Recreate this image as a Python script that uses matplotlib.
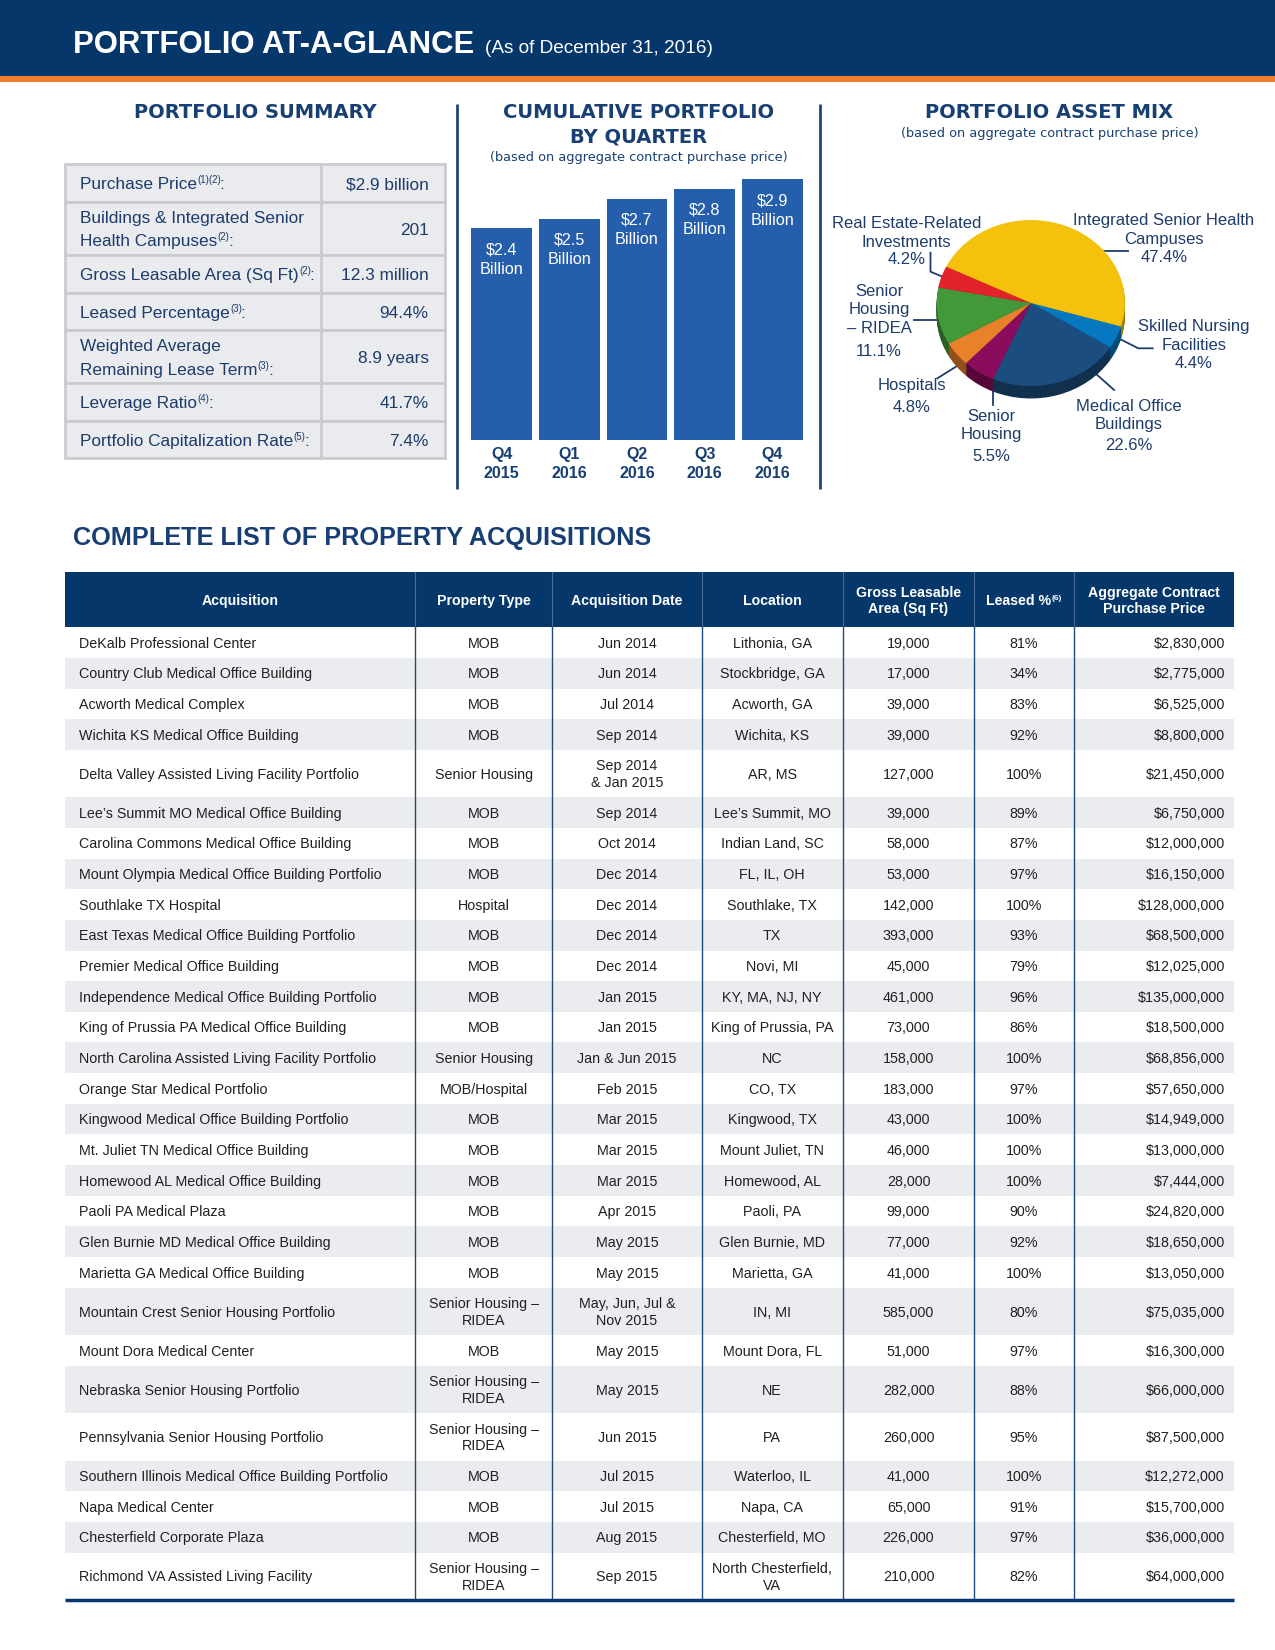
import matplotlib
matplotlib.use('Agg')
import matplotlib.pyplot as plt
from matplotlib.patches import Rectangle
import matplotlib.colors as mcolors
import numpy as np

# ---------------- data ----------------
summary_labels = ["Purchase Price", "Buildings & Integrated Senior\nHealth Campuses",
                  "Gross Leasable Area (Sq Ft)", "Leased Percentage",
                  "Weighted Average\nRemaining Lease Term", "Leverage Ratio",
                  "Portfolio Capitalization Rate"]
summary_notes = ["(1)(2)", "(2)", "(2)", "(3)", "(3)", "(4)", "(5)"]
summary_values = ["$2.9 billion", "201", "12.3 million", "94.4%", "8.9 years", "41.7%", "7.4%"]

quarters = ["Q4\n2015", "Q1\n2016", "Q2\n2016", "Q3\n2016", "Q4\n2016"]
cumulative_billion = [2.4, 2.5, 2.7, 2.8, 2.9]

asset_labels = ["Integrated Senior Health\nCampuses", "Skilled Nursing\nFacilities",
                "Medical Office\nBuildings", "Senior\nHousing", "Hospitals",
                "Senior\nHousing\n\u2013 RIDEA", "Real Estate-Related\nInvestments"]
asset_pct = [47.4, 4.4, 22.6, 5.5, 4.8, 11.1, 4.2]

table_headers = ["Acquisition", "Property Type", "Acquisition Date", "Location",
                 "Gross Leasable\nArea (Sq Ft)", "Leased %", "Aggregate Contract\nPurchase Price"]
acquisitions = [
    "DeKalb Professional Center", "Country Club Medical Office Building", "Acworth Medical Complex",
    "Wichita KS Medical Office Building", "Delta Valley Assisted Living Facility Portfolio",
    "Lee\u2019s Summit MO Medical Office Building", "Carolina Commons Medical Office Building",
    "Mount Olympia Medical Office Building Portfolio", "Southlake TX Hospital",
    "East Texas Medical Office Building Portfolio", "Premier Medical Office Building",
    "Independence Medical Office Building Portfolio", "King of Prussia PA Medical Office Building",
    "North Carolina Assisted Living Facility Portfolio", "Orange Star Medical Portfolio",
    "Kingwood Medical Office Building Portfolio", "Mt. Juliet TN Medical Office Building",
    "Homewood AL Medical Office Building", "Paoli PA Medical Plaza",
    "Glen Burnie MD Medical Office Building", "Marietta GA Medical Office Building",
    "Mountain Crest Senior Housing Portfolio", "Mount Dora Medical Center",
    "Nebraska Senior Housing Portfolio", "Pennsylvania Senior Housing Portfolio",
    "Southern Illinois Medical Office Building Portfolio", "Napa Medical Center",
    "Chesterfield Corporate Plaza", "Richmond VA Assisted Living Facility"]
SHR = "Senior Housing \u2013\nRIDEA"
property_types = ["MOB", "MOB", "MOB", "MOB", "Senior Housing", "MOB", "MOB", "MOB", "Hospital",
                  "MOB", "MOB", "MOB", "MOB", "Senior Housing", "MOB/Hospital", "MOB", "MOB", "MOB",
                  "MOB", "MOB", "MOB", SHR, "MOB", SHR, SHR, "MOB", "MOB", "MOB", SHR]
acq_dates = ["Jun 2014", "Jun 2014", "Jul 2014", "Sep 2014", "Sep 2014\n& Jan 2015", "Sep 2014",
             "Oct 2014", "Dec 2014", "Dec 2014", "Dec 2014", "Dec 2014", "Jan 2015", "Jan 2015",
             "Jan & Jun 2015", "Feb 2015", "Mar 2015", "Mar 2015", "Mar 2015", "Apr 2015",
             "May 2015", "May 2015", "May, Jun, Jul &\nNov 2015", "May 2015", "May 2015",
             "Jun 2015", "Jul 2015", "Jul 2015", "Aug 2015", "Sep 2015"]
locations = ["Lithonia, GA", "Stockbridge, GA", "Acworth, GA", "Wichita, KS", "AR, MS",
             "Lee\u2019s Summit, MO", "Indian Land, SC", "FL, IL, OH", "Southlake, TX", "TX",
             "Novi, MI", "KY, MA, NJ, NY", "King of Prussia, PA", "NC", "CO, TX", "Kingwood, TX",
             "Mount Juliet, TN", "Homewood, AL", "Paoli, PA", "Glen Burnie, MD", "Marietta, GA",
             "IN, MI", "Mount Dora, FL", "NE", "PA", "Waterloo, IL", "Napa, CA", "Chesterfield, MO",
             "North Chesterfield,\nVA"]
gla_sqft = [19000, 17000, 39000, 39000, 127000, 39000, 58000, 53000, 142000, 393000, 45000,
            461000, 73000, 158000, 183000, 43000, 46000, 28000, 99000, 77000, 41000, 585000,
            51000, 282000, 260000, 41000, 65000, 226000, 210000]
leased_pct = [81, 34, 83, 92, 100, 89, 87, 97, 100, 93, 79, 96, 86, 100, 97, 100, 100, 100, 90,
              92, 100, 80, 97, 88, 95, 100, 91, 97, 82]
prices = [2830000, 2775000, 6525000, 8800000, 21450000, 6750000, 12000000, 16150000, 128000000,
          68500000, 12025000, 135000000, 18500000, 68856000, 57650000, 14949000, 13000000,
          7444000, 24820000, 18650000, 13050000, 75035000, 16300000, 66000000, 87500000,
          12272000, 15700000, 36000000, 64000000]

# ---------------- style ----------------
W, H = 1275, 1650
HEAD = 'DejaVu Sans'
BODY = 'Liberation Sans'
NAVY_BAND = '#05376a'
ORANGE = '#ef7d2d'
TITLE_NAVY = '#173f74'
TEXT_NAVY = '#1e3c6a'
BAR = '#255fac'
GRID_GRAY = '#c9cbce'
FILL_GRAY = '#e9ebef'
ROW_GRAY = '#ebecf0'
BODY_TEXT = '#231f20'
COL_LINE = '#1f4a7c'
pie_colors = ['#f4c20d', '#0678bf', '#1b4e7e', '#8b0c5d', '#e8812a', '#43993a', '#e2232a']

fig = plt.figure(figsize=(W / 100, H / 100), dpi=100)
fig.patch.set_facecolor('white')
bg = fig.add_axes([0, 0, 1, 1])
bg.set_xlim(0, W)
bg.set_ylim(H, 0)
bg.axis('off')
renderer = fig.canvas.get_renderer()
PX = 100 / 72


def width_px(t):
    if not t.get_text():
        return 0.0
    return t.get_window_extent(renderer).width


def line(x, yc, s, size, ha='left', **kw):
    """text whose capitals are centred on yc (pixel coords)"""
    return bg.text(x, yc + 0.36 * size * PX, s, fontsize=size, ha=ha, va='baseline', **kw)


def block(x, yc, s, size, pitch, ha='left', **kw):
    parts = s.split('\n')
    y0 = yc - (len(parts) - 1) * pitch / 2
    return [line(x, y0 + i * pitch, p, size, ha=ha, **kw) for i, p in enumerate(parts)]


def sup_line(x, yc, main, sup, tail, size, sup_size, ha='left', raise_px=5, **kw):
    y = yc + 0.36 * size * PX
    t1 = bg.text(x, y, main, fontsize=size, ha='left', va='baseline', **kw)
    t2 = bg.text(x, y - raise_px, sup, fontsize=sup_size, ha='left', va='baseline', **kw)
    t3 = bg.text(x, y, tail, fontsize=size, ha='left', va='baseline', **kw)
    w1, w2, w3 = width_px(t1), width_px(t2), width_px(t3)
    tot = w1 + w2 + w3
    x0 = x if ha == 'left' else (x - tot / 2 if ha == 'center' else x - tot)
    t1.set_x(x0)
    t2.set_x(x0 + w1 + 0.3)
    t3.set_x(x0 + w1 + w2 - 1.0)


# ---------------- page header ----------------
bg.add_patch(Rectangle((0, 0), W, 76, color=NAVY_BAND, lw=0))
bg.add_patch(Rectangle((0, 76), W, 6, color=ORANGE, lw=0))
t = bg.text(73, 53.2, "PORTFOLIO AT-A-GLANCE", fontsize=22.4, family=BODY, weight='bold',
            color='white', va='baseline')
tw = width_px(t)
bg.text(73 + tw + 11, 53.2, "(As of December 31, 2016)", fontsize=13.7, family=BODY,
        color='white', va='baseline')

# section separators
for xs in (457, 820):
    bg.plot([xs, xs], [104, 489], color='#1f4677', lw=2, solid_capstyle='butt')

# ---------------- portfolio summary ----------------
line(255, 110.5, "PORTFOLIO SUMMARY", 14, ha='center', family=HEAD, weight='bold', color=TITLE_NAVY)
tx0, tx1, tdiv = 64.5, 445, 320.5
y = 164.4
for lab, note, val in zip(summary_labels, summary_notes, summary_values):
    nlines = lab.count('\n') + 1
    h = 37.6 if nlines == 1 else 53.0
    bg.add_patch(Rectangle((tx0, y), tx1 - tx0, h, facecolor=FILL_GRAY, edgecolor=GRID_GRAY, lw=2))
    bg.plot([tdiv, tdiv], [y, y + h], color=GRID_GRAY, lw=2)
    yc = y + h / 2
    parts = lab.split('\n')
    pitch = 23.3
    y0 = yc - (nlines - 1) * pitch / 2
    for i, p in enumerate(parts[:-1]):
        line(80, y0 + i * pitch, p, 12.4, family=BODY, color=TEXT_NAVY)
    sup_line(80, y0 + (nlines - 1) * pitch, parts[-1], note, ":", 12.4, 7, ha='left',
             raise_px=6, family=BODY, color=TEXT_NAVY)
    line(428.6, yc, val, 12.4, ha='right', family=BODY, color=TEXT_NAVY)
    y += h

# ---------------- cumulative portfolio bar chart ----------------
line(638.5, 110.5, "CUMULATIVE PORTFOLIO", 14, ha='center', family=HEAD, weight='bold', color=TITLE_NAVY)
line(638.5, 135.5, "BY QUARTER", 14, ha='center', family=HEAD, weight='bold', color=TITLE_NAVY)
line(638.5, 156.5, "(based on aggregate contract purchase price)", 9.3, ha='center', family=HEAD,
     color=TITLE_NAVY)

bx = fig.add_axes([467.8 / W, 1 - 440 / H, 338.3 / W, (440 - 169.5) / H])
xpos = np.arange(len(quarters))
bx.bar(xpos, cumulative_billion, width=0.9, color=BAR, lw=0)
bx.set_xlim(-0.5, len(quarters) - 0.5)
bx.set_ylim(0.24, 3.0)
bx.set_yticks([])
bx.set_xticks(xpos)
bx.set_xticklabels(quarters, fontsize=11.5, fontweight='bold', color=TITLE_NAVY, family=BODY,
                   linespacing=1.3)
bx.tick_params(axis='x', length=0, pad=5)
for s in bx.spines.values():
    s.set_visible(False)
bx.patch.set_alpha(0)
for i, v in enumerate(cumulative_billion):
    bx.annotate(f"${v:.1f}", xy=(i, v), xytext=(0, -25.8), textcoords='offset pixels',
                ha='center', va='baseline', fontsize=11.6, color='white', family=BODY)
    bx.annotate("Billion", xy=(i, v), xytext=(0, -45.3), textcoords='offset pixels',
                ha='center', va='baseline', fontsize=11.6, color='white', family=BODY)

# ---------------- asset mix pie ----------------
line(1049.5, 110.5, "PORTFOLIO ASSET MIX", 14, ha='center', family=HEAD, weight='bold', color=TITLE_NAVY)
line(1049.5, 132, "(based on aggregate contract purchase price)", 9.3, ha='center', family=HEAD,
     color=TITLE_NAVY)

cx, cy, rx, ry, depth = 1030.8, 303.0, 94.1, 83.0, 12.5
dep = depth / ry
pa = fig.add_axes([(cx - rx) / W, 1 - (cy + ry + depth) / H, 2 * rx / W, (2 * ry + depth) / H])
dark = [tuple(np.array(mcolors.to_rgb(c)) * 0.62) for c in pie_colors]
for k in np.linspace(dep, 0.0, 14)[:-1]:
    pa.pie(asset_pct, colors=dark, startangle=154.1, counterclock=False, center=(0, -k),
           wedgeprops=dict(linewidth=0.6, edgecolor='none'))
wedges, _ = pa.pie(asset_pct, colors=pie_colors, startangle=154.1, counterclock=False,
                   wedgeprops=dict(linewidth=0))
pa.set_aspect('auto')
pa.set_xlim(-1, 1)
pa.set_ylim(-1 - dep, 1)
pa.axis('off')
for p in pa.patches:
    p.set_clip_on(False)

# label layout: (centre x, first line centre y, gap before percentage)
pie_label_pos = [(1164, 219.3, 18.5), (1194, 325.3, 18.7), (1129, 405, 20.7), (991.5, 415, 21.7),
                 (912, 384, 22), (879, 290, 23.3), (906.4, 222.3, 17.6)]
pie_leaders = [[(1066, 251), (1127.5, 251)],
               [(1114, 336), (1138.3, 348.3), (1152.7, 348.3)],
               [(1072.9, 353.3), (1114.1, 390)],
               [(993.2, 365), (993.2, 405)],
               [(977.5, 353.3), (937.3, 378.3)],
               [(955.7, 320), (913.8, 320)],
               [(952.3, 280.7), (930.5, 271.7), (930.5, 252.7)]]
for lab, pct, (lx, ly, gap), pts in zip(asset_labels, asset_pct, pie_label_pos, pie_leaders):
    parts = lab.split('\n')
    for i, p in enumerate(parts):
        line(lx, ly + i * 18.4, p, 12, ha='center', family=BODY, color=TEXT_NAVY)
    line(lx, ly + (len(parts) - 1) * 18.4 + gap, f"{pct:.1f}%", 12, ha='center', family=BODY,
         color=TEXT_NAVY)
    xs, ys = zip(*pts)
    bg.plot(xs, ys, color='#1c3d6e', lw=1.3)

# ---------------- acquisitions table ----------------
line(73, 536, "COMPLETE LIST OF PROPERTY ACQUISITIONS", 18.2, family=BODY, weight='bold',
     color=TITLE_NAVY)
col_edges = [65.3, 415, 552.3, 701.7, 842.7, 974.3, 1073.7, 1234.4]
head_top, head_bot = 571.7, 627.3
bg.add_patch(Rectangle((col_edges[0], head_top), col_edges[-1] - col_edges[0], head_bot - head_top,
                       color=NAVY_BAND, lw=0))
for xe in col_edges[1:-1]:
    bg.plot([xe, xe], [head_top, head_bot], color='#4a6a93', lw=0.8)
hc = (head_top + head_bot) / 2
for j, hd in enumerate(table_headers):
    xc = (col_edges[j] + col_edges[j + 1]) / 2
    if hd == "Leased %":
        sup_line(xc, hc, hd, "(6)", "", 10.2, 6, ha='center', raise_px=5, family=BODY,
                 weight='bold', color='white')
    else:
        block(xc, hc, hd, 10.2, 16, ha='center', family=BODY, weight='bold', color='white')

rows = list(zip(acquisitions, property_types, acq_dates, locations,
                [f"{g:,}" for g in gla_sqft], [f"{p}%" for p in leased_pct],
                [f"${p:,}" for p in prices]))
y = head_bot
for r, cells in enumerate(rows):
    two = any('\n' in c for c in cells)
    h = 47.4 if two else 30.65
    if r % 2 == 1:
        bg.add_patch(Rectangle((col_edges[0], y), col_edges[-1] - col_edges[0], h,
                               color=ROW_GRAY, lw=0))
    yc = y + h / 2
    for j, c in enumerate(cells):
        if j == 0:
            block(col_edges[0] + 14, yc, c, 10.3, 16.7, ha='left', family=BODY, color=BODY_TEXT)
        elif j == len(cells) - 1:
            block(col_edges[-1] - 9.5, yc, c, 10.3, 16.7, ha='right', family=BODY, color=BODY_TEXT)
        else:
            xc = (col_edges[j] + col_edges[j + 1]) / 2
            block(xc, yc, c, 10.3, 16.7, ha='center', family=BODY, color=BODY_TEXT)
    y += h
table_bottom = y
for xe in col_edges[1:-1]:
    bg.plot([xe, xe], [head_bot, table_bottom], color=COL_LINE, lw=1)
bg.plot([col_edges[0], col_edges[-1]], [table_bottom, table_bottom], color=NAVY_BAND, lw=2.5,
        solid_capstyle='butt')

fig.savefig('out.png', dpi=100, facecolor='white')
